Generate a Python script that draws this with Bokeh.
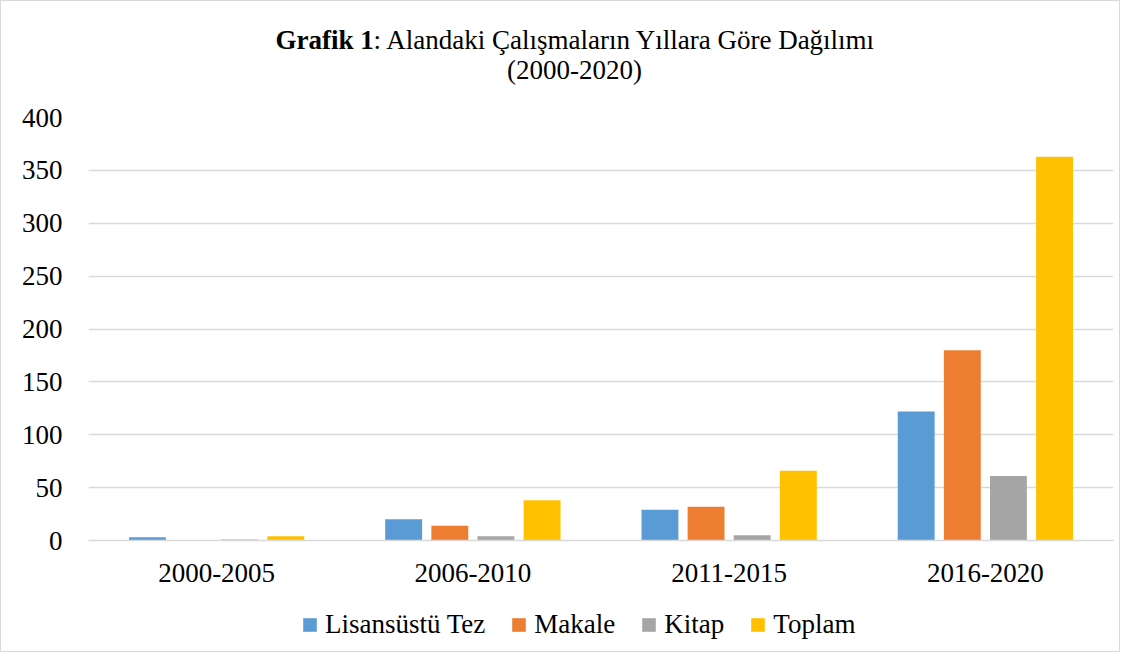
from bokeh.plotting import figure
from bokeh.models import ColumnDataSource, Legend, LegendItem, Label, FactorRange, Range1d
from bokeh.transform import dodge
from bokeh.layouts import column
from bokeh.embed import file_html
from bokeh.resources import INLINE

periods = ["2000-2005", "2006-2010", "2011-2015", "2016-2020"]
series_names = ["Lisansüstü Tez", "Makale", "Kitap", "Toplam"]
tez = [3, 20, 29, 122]
makale = [0, 14, 32, 180]
kitap = [1, 4, 5, 61]
toplam = [4, 38, 66, 363]
colors = ["#5B9BD5", "#ED7D31", "#A5A5A5", "#FFC000"]
y_ticks = [0, 50, 100, 150, 200, 250, 300, 350, 400]
title_bold = "Grafik 1"
title_rest = ": Alandaki Çalışmaların Yıllara Göre Dağılımı"
title_line2 = "(2000-2020)"

FONT = "Liberation Serif"
FS = "27px"
W = 1118
FL, FR = 87, 1112  # frame left/right (page px); column aligns all frames to these


def blank(height):
    f = figure(width=W, height=height, x_range=Range1d(FL, FR), y_range=Range1d(0, height),
               output_backend="svg", toolbar_location=None,
               min_border=0, min_border_left=FL, min_border_right=W - FR,
               min_border_top=0, min_border_bottom=0)
    f.axis.visible = False
    f.grid.grid_line_color = None
    f.outline_line_color = None
    return f


# ---- title ----
TH = 100
tfig = blank(TH)
tfig.add_layout(Label(x=274, y=TH - 38, text=title_bold, text_font=FONT, text_font_size=FS,
                      text_font_style="bold", text_baseline="alphabetic", text_align="left",
                      text_color="#000000"))
tfig.add_layout(Label(x=372, y=TH - 38, text=title_rest, text_font=FONT, text_font_size=FS,
                      text_baseline="alphabetic", text_align="left", text_color="#000000"))
tfig.add_layout(Label(x=573, y=TH - 68, text=title_line2, text_font=FONT, text_font_size=FS,
                      text_baseline="alphabetic", text_align="center", text_color="#000000"))

# ---- main chart ----
source = ColumnDataSource(dict(period=periods, tez=tez, makale=makale, kitap=kitap, toplam=toplam))

p = figure(x_range=FactorRange(factors=periods, range_padding=0), y_range=(0, 400),
           width=W, height=490, output_backend="svg", toolbar_location=None,
           min_border_left=FL, min_border_right=W - FR, min_border_top=16, min_border_bottom=51)

cols = ["tez", "makale", "kitap", "toplam"]
offsets = [-0.27, -0.09, 0.09, 0.27]
for c, off, col in zip(cols, offsets, colors):
    p.vbar(x=dodge("period", off, range=p.x_range), top=c, width=0.144, source=source,
           fill_color=col, line_color=None)

p.xgrid.grid_line_color = None
p.ygrid.grid_line_color = "#D9D9D9"
p.ygrid.grid_line_width = 1.5
p.yaxis.ticker = y_ticks
p.yaxis.axis_line_color = None
p.yaxis.major_tick_line_color = None
p.yaxis.minor_tick_line_color = None
p.yaxis.major_label_text_font = FONT
p.yaxis.major_label_text_font_size = FS
p.yaxis.major_label_text_color = "#000000"
p.yaxis.major_label_standoff = 20
p.xaxis.axis_line_color = "#D9D9D9"
p.xaxis.axis_line_width = 1.5
p.xaxis.major_tick_line_color = None
p.xaxis.minor_tick_line_color = None
p.xaxis.major_label_text_font = FONT
p.xaxis.major_label_text_font_size = FS
p.xaxis.major_label_text_color = "#000000"
p.xaxis.major_label_standoff = 17
p.outline_line_color = None

# ---- legend (swatch proxies: zero-height bars, only their colours are used) ----
LH = 60
lfig = blank(LH)
items = []
for col, name in zip(colors, series_names):
    r = lfig.vbar(x=[0], top=[0], bottom=[0], width=0, fill_color=col, line_color=None)
    items.append(LegendItem(label=name, renderers=[r]))
legend = Legend(items=items, orientation="horizontal", location=(213, 11),
                label_text_font=FONT, label_text_font_size=FS, label_text_color="#000000",
                glyph_width=17, glyph_height=17, label_standoff=7, spacing=25,
                border_line_color=None, background_fill_alpha=0, padding=4, margin=0)
lfig.add_layout(legend)

layout = column(tfig, p, lfig, spacing=0)
layout.styles = {"border": "1px solid #D9D9D9"}

open("out.html", "w").write(file_html(layout, INLINE))
